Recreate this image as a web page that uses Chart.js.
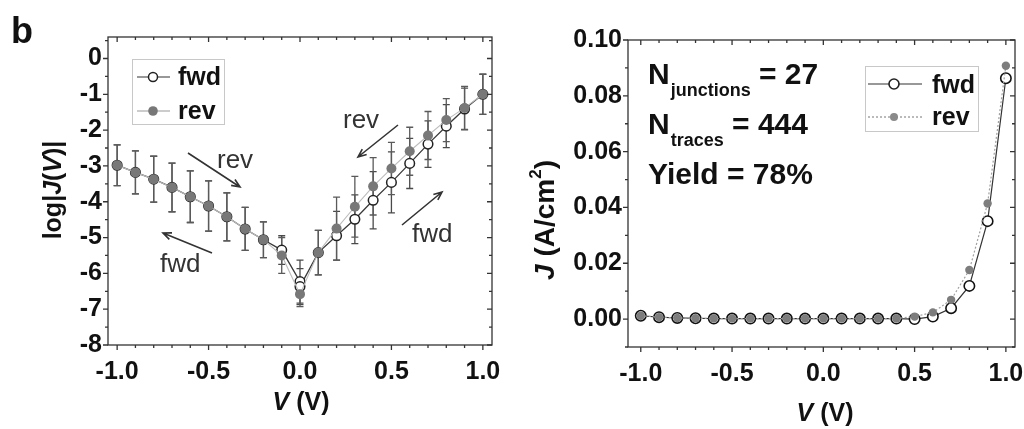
<!DOCTYPE html>
<html><head><meta charset="utf-8">
<script src="https://cdn.jsdelivr.net/npm/chart.js@4.4.0/dist/chart.umd.min.js"></script>
<style>
html,body{margin:0;padding:0;background:#fff;width:1024px;height:429px;overflow:hidden;}
#c1{position:absolute;left:0;top:0;}
#c2{position:absolute;left:512px;top:0;}
</style></head><body>
<canvas id="c1" width="512" height="429"></canvas>
<canvas id="c2" width="512" height="429"></canvas>
<script>
// ---------- data ----------
const voltages = [-1.0,-0.9,-0.8,-0.7,-0.6,-0.5,-0.4,-0.3,-0.2,-0.1,0.0,0.1,0.2,0.3,0.4,0.5,0.6,0.7,0.8,0.9,1.0];
// left panel: log|J(V)|
const fwdVoltages = [-1.0,-0.9,-0.8,-0.7,-0.6,-0.5,-0.4,-0.3,-0.2,-0.1,0.0,0.0,0.1,0.2,0.3,0.4,0.5,0.6,0.7,0.8,0.9,1.0];
const logFwd = [-2.98,-3.18,-3.37,-3.60,-3.86,-4.12,-4.42,-4.76,-5.06,-5.35,-6.23,-6.37,-5.42,-4.95,-4.49,-3.96,-3.46,-2.93,-2.39,-1.89,-1.41,-1.00];
const logFwdErr = [0.57,0.60,0.64,0.68,0.72,0.70,0.67,0.60,0.50,0.40,0.60,0.50,0.62,0.68,0.68,0.80,0.85,0.70,0.65,0.60,0.58,0.56];
const logRev = [-2.98,-3.18,-3.37,-3.60,-3.86,-4.12,-4.42,-4.76,-5.06,-5.50,-6.58,-5.42,-4.75,-4.14,-3.57,-3.07,-2.59,-2.15,-1.72,-1.38,-1.00];
const logRevErr = [0.57,0.60,0.64,0.68,0.72,0.70,0.67,0.60,0.50,0.50,0.35,0.62,0.88,0.85,0.80,0.73,0.67,0.67,0.60,0.60,0.56];
// right panel: J (A/cm2)
const jFwd = [0.0012,0.0007,0.0004,0.0003,0.0002,0.0002,0.0002,0.0002,0.0002,0.0002,0.0002,0.0002,0.0002,0.0002,0.0002,0.0000,0.0009,0.0039,0.0119,0.0351,0.0863];
const jRev = [0.0012,0.0007,0.0004,0.0003,0.0002,0.0002,0.0002,0.0002,0.0002,0.0002,0.0002,0.0002,0.0002,0.0002,0.0002,0.0009,0.0024,0.0069,0.0176,0.0414,0.0908];
// ticks
const vTicks = [-1.0,-0.5,0.0,0.5,1.0];
const logTicks = [-8,-7,-6,-5,-4,-3,-2,-1,0];
const jTicks = [0.00,0.02,0.04,0.06,0.08,0.10];
const vMinorStep = 0.1, logMinorStep = 0.5, jMinorStep = 0.01;
// texts
const seriesNames = ['fwd','rev'];
const statsLines = [['N','junctions','= 27'],['N','traces','= 444'],['Yield = 78%']];

// ---------- helpers ----------
const FONT = '"Liberation Sans", Arial, Helvetica, sans-serif';
Chart.defaults.font.family = FONT;
function minorList(lo, hi, step){ const out=[]; const n=Math.round((hi-lo)/step); for(let i=0;i<=n;i++) out.push(+(lo+i*step).toFixed(6)); return out; }

function axis(kind, min, max, ticks, fmt, pad, size){
  return {
    type:'linear', min, max, position: kind==='x'?'bottom':'left',
    grid:{display:false, drawTicks:false}, border:{display:false},
    afterBuildTicks: s => { s.ticks = ticks.map(v=>({value:v})); },
    afterFit: s => {
      if(kind==='x'){ s.height=size; s.paddingLeft=0; s.paddingRight=0; }
      else { s.width=size; s.paddingTop=0; s.paddingBottom=0; }
    },
    ticks:{ callback: v => fmt(v), font:{family:FONT,size:25,weight:'bold'}, color:'#111', padding:pad, maxRotation:0, autoSkip:false }
  };
}

function drawFrame(chart, xMajor, xMinor, yMajor, yMinor){
  const {ctx, chartArea:a, scales:{x,y}} = chart;
  ctx.save();
  ctx.strokeStyle='#333'; ctx.lineWidth=1.3;
  ctx.strokeRect(a.left, a.top, a.right-a.left, a.bottom-a.top);
  ctx.beginPath();
  const isMaj=(arr,v)=>arr.some(m=>Math.abs(m-v)<1e-9);
  xMinor.forEach(v=>{ const p=x.getPixelForValue(v); if(p<a.left-0.5||p>a.right+0.5) return; const L=isMaj(xMajor,v)?5:3;
    ctx.moveTo(p,a.bottom); ctx.lineTo(p,a.bottom+L); ctx.moveTo(p,a.top); ctx.lineTo(p,a.top+L); });
  yMinor.forEach(v=>{ const p=y.getPixelForValue(v); if(p<a.top-0.5||p>a.bottom+0.5) return; const L=isMaj(yMajor,v)?5:3;
    ctx.moveTo(a.left,p); ctx.lineTo(a.left-L,p); ctx.moveTo(a.right,p); ctx.lineTo(a.right-L,p); });
  ctx.stroke();
  ctx.restore();
}

function drawErrors(chart, xs, ys, errs, color){
  const {ctx, scales:{x,y}} = chart;
  ctx.save(); ctx.strokeStyle=color; ctx.lineWidth=1.3; ctx.beginPath();
  xs.forEach((v,i)=>{
    const px=x.getPixelForValue(v), t=y.getPixelForValue(ys[i]+errs[i]), b=y.getPixelForValue(ys[i]-errs[i]);
    ctx.moveTo(px,t); ctx.lineTo(px,b);
    ctx.moveTo(px-3.5,t); ctx.lineTo(px+3.5,t);
    ctx.moveTo(px-3.5,b); ctx.lineTo(px+3.5,b);
  });
  ctx.stroke(); ctx.restore();
}

// rich text: segments {t, italic, size, dy}
function drawRich(ctx, segs, cx, cy, rot){
  ctx.save();
  ctx.translate(cx,cy); if(rot) ctx.rotate(rot);
  ctx.textBaseline='middle'; ctx.fillStyle='#111';
  const fontOf=s=>(s.italic?'italic ':'')+'bold '+s.size+'px '+FONT;
  let w=0; segs.forEach(s=>{ctx.font=fontOf(s); w+=ctx.measureText(s.t).width;});
  let xx=-w/2;
  segs.forEach(s=>{ctx.font=fontOf(s); ctx.fillText(s.t,xx,s.dy||0); xx+=ctx.measureText(s.t).width;});
  ctx.restore();
}

function arrow(ctx, x1,y1,x2,y2){
  const ang=Math.atan2(y2-y1,x2-x1), h=9;
  ctx.beginPath();
  ctx.moveTo(x1,y1); ctx.lineTo(x2,y2);
  ctx.moveTo(x2-h*Math.cos(ang-0.4), y2-h*Math.sin(ang-0.4)); ctx.lineTo(x2,y2);
  ctx.lineTo(x2-h*Math.cos(ang+0.4), y2-h*Math.sin(ang+0.4));
  ctx.stroke();
}

function marker(ctx, x, y, r, fill, stroke, lw){
  ctx.beginPath(); ctx.arc(x,y,r,0,Math.PI*2); ctx.fillStyle=fill; ctx.fill();
  if(stroke){ ctx.strokeStyle=stroke; ctx.lineWidth=lw; ctx.stroke(); }
}

// ---------- left panel ----------
const deco1 = {
  id:'deco1',
  beforeDatasetsDraw(chart){
    drawErrors(chart, fwdVoltages, logFwd, logFwdErr, '#4a4a4a');
    drawErrors(chart, voltages, logRev, logRevErr, '#5a5a5a');
  },
  afterDraw(chart){
    const ctx=chart.ctx;
    drawFrame(chart, vTicks, minorList(-1.0,1.0,vMinorStep), logTicks, minorList(-8,0.5,logMinorStep));
    // legend
    ctx.save();
    ctx.strokeStyle='#c8c8c8'; ctx.lineWidth=1; ctx.strokeRect(132.5,59.5,92,65);
    ctx.strokeStyle='#333'; ctx.lineWidth=1.2; ctx.beginPath(); ctx.moveTo(137,77); ctx.lineTo(170,77); ctx.stroke();
    marker(ctx,153,77,4.5,'#fff','#222',1.5);
    ctx.strokeStyle='#bbb'; ctx.beginPath(); ctx.moveTo(137,111); ctx.lineTo(170,111); ctx.stroke();
    marker(ctx,153,111,4.8,'#777',null,0);
    ctx.fillStyle='#111'; ctx.font='bold 25px '+FONT; ctx.textBaseline='alphabetic';
    ctx.fillText(seriesNames[0],178,85); ctx.fillText(seriesNames[1],178,119);
    // annotations
    ctx.font='26px '+FONT; ctx.fillStyle='#333';
    ctx.fillText('rev',217,168); ctx.fillText('fwd',160,272);
    ctx.fillText('rev',343,128); ctx.fillText('fwd',412,242);
    ctx.strokeStyle='#333'; ctx.lineWidth=1.6;
    arrow(ctx,188,153,240,187); arrow(ctx,212,253,163,233);
    arrow(ctx,398,125,358,157); arrow(ctx,402,225,442,192);
    // panel letter
    ctx.fillStyle='#111'; ctx.font='bold 36px '+FONT; ctx.fillText('b',11,43);
    ctx.restore();
    // titles
    drawRich(ctx,[{t:'log|',size:25},{t:'J',italic:true,size:25},{t:'(',size:25},{t:'V',italic:true,size:25},{t:')|',size:25}],54,190,-Math.PI/2);
    drawRich(ctx,[{t:'V',italic:true,size:25},{t:' (V)',size:25}],301,403,0);
  }
};

new Chart(document.getElementById('c1'),{
  type:'line',
  data:{datasets:[
    {label:seriesNames[0], data:fwdVoltages.map((v,i)=>({x:v,y:logFwd[i]})), order:2,
     borderColor:'#3a3a3a', borderWidth:1.3, pointRadius:4.8, pointBackgroundColor:'#fff', pointBorderColor:'#222', pointBorderWidth:1.5, tension:0},
    {label:seriesNames[1], data:voltages.map((v,i)=>({x:v,y:logRev[i]})), order:1,
     borderColor:'#bdbdbd', borderWidth:1.1, pointRadius:5, pointBackgroundColor:'#787878', pointBorderColor:'#787878', pointBorderWidth:0, tension:0}
  ]},
  options:{
    responsive:false, animation:false, devicePixelRatio:1,
    layout:{padding:{left:0,right:20,top:37,bottom:0}},
    plugins:{legend:{display:false}, tooltip:{enabled:false}},
    scales:{
      x: axis('x',-1.05,1.05,vTicks,v=>v.toFixed(1),12,84),
      y: axis('y',-8,0.6,logTicks,v=>String(v),6,108)
    }
  },
  plugins:[deco1]
});

// ---------- right panel ----------
const deco2 = {
  id:'deco2',
  afterDraw(chart){
    const ctx=chart.ctx;
    drawFrame(chart, vTicks, minorList(-1.0,1.0,vMinorStep), jTicks, minorList(-0.01,0.10,jMinorStep));
    ctx.save();
    // legend
    ctx.strokeStyle='#c8c8c8'; ctx.lineWidth=1; ctx.strokeRect(353.5,66.5,113,65);
    ctx.strokeStyle='#333'; ctx.lineWidth=1.2; ctx.beginPath(); ctx.moveTo(356,84); ctx.lineTo(410,84); ctx.stroke();
    marker(ctx,382,84,5,'#fff','#222',1.6);
    ctx.strokeStyle='#aaa'; ctx.setLineDash([2,2]); ctx.beginPath(); ctx.moveTo(356,117); ctx.lineTo(410,117); ctx.stroke(); ctx.setLineDash([]);
    marker(ctx,382,117,4,'#8a8a8a',null,0);
    ctx.fillStyle='#111'; ctx.font='bold 25px '+FONT; ctx.textBaseline='alphabetic';
    ctx.fillText(seriesNames[0],420,93); ctx.fillText(seriesNames[1],420,125);
    // stats
    const base=[84,134,184];
    statsLines.forEach((ln,i)=>{
      let xx=136;
      if(ln.length===1){ ctx.font='bold 30px '+FONT; ctx.fillText(ln[0],xx,base[i]); return; }
      ctx.font='bold 30px '+FONT; ctx.fillText(ln[0],xx,base[i]); xx+=ctx.measureText(ln[0]).width+1;
      ctx.font='bold 18px '+FONT; ctx.fillText(ln[1],xx,base[i]+12); xx+=ctx.measureText(ln[1]).width;
      ctx.font='bold 30px '+FONT; xx+=ctx.measureText(' ').width; ctx.fillText(ln[2],xx,base[i]);
    });
    ctx.restore();
    drawRich(ctx,[{t:'J',italic:true,size:28},{t:' (A/cm',size:28},{t:'2',size:17,dy:-10},{t:')',size:28}],34,220,-Math.PI/2);
    drawRich(ctx,[{t:'V',italic:true,size:25},{t:' (V)',size:25}],313,414,0);
  }
};

new Chart(document.getElementById('c2'),{
  type:'line',
  data:{datasets:[
    {label:seriesNames[0], data:voltages.map((v,i)=>({x:v,y:jFwd[i]})), order:2,
     borderColor:'#333', borderWidth:1.2, pointRadius:5.2, pointBackgroundColor:'#fff', pointBorderColor:'#111', pointBorderWidth:1.6, tension:0},
    {label:seriesNames[1], data:voltages.map((v,i)=>({x:v,y:jRev[i]})), order:1,
     borderColor:'#a0a0a0', borderWidth:1.2, borderDash:[2,2], pointRadius:4.2, pointBackgroundColor:'#7d7d7d', pointBorderColor:'#7d7d7d', pointBorderWidth:0, tension:0}
  ]},
  options:{
    responsive:false, animation:false, devicePixelRatio:1,
    layout:{padding:{left:0,right:9,top:40,bottom:0}},
    plugins:{legend:{display:false}, tooltip:{enabled:false}},
    scales:{
      x: axis('x',-1.07,1.05,vTicks,v=>v.toFixed(1),12,82),
      y: axis('y',-0.01,0.10,jTicks,v=>v.toFixed(2),6,116)
    }
  },
  plugins:[deco2]
});
</script>
</body></html>
